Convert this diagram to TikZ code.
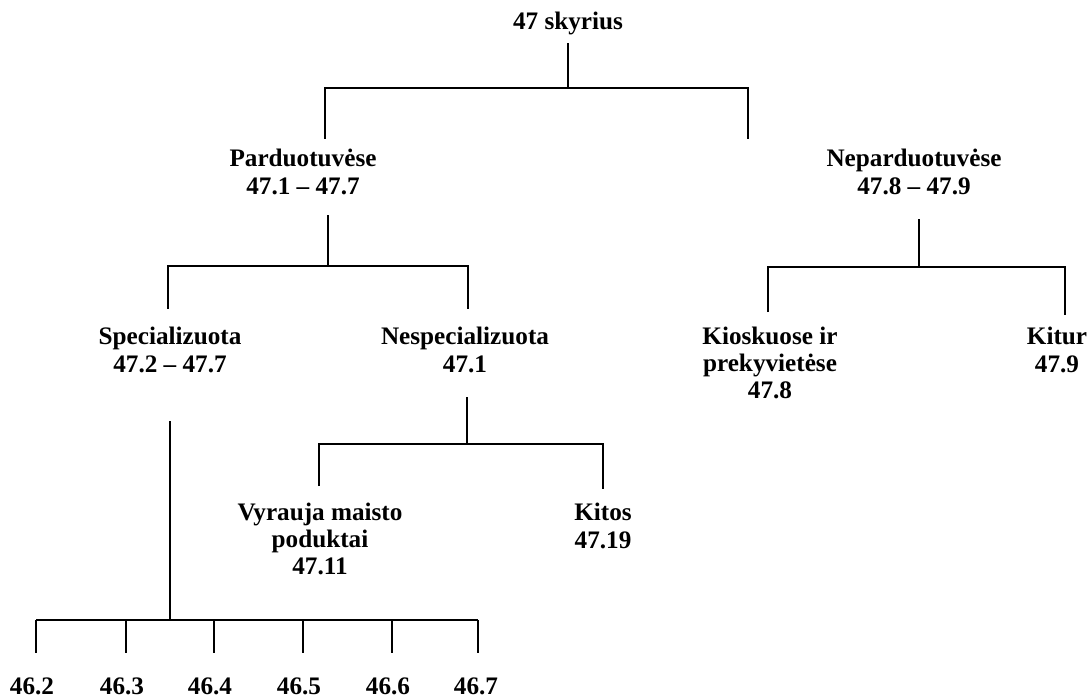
\documentclass[tikz,border=0pt]{standalone}
\usepackage{fontspec}
\setmainfont{Liberation Serif}

\begin{document}
\begin{tikzpicture}[x=0.5pt,y=-0.5pt,line width=0.75pt,
    every node/.style={font=\bfseries\fontsize{12.6}{13.6}\selectfont, align=center, inner sep=2pt}]
    \useasboundingbox (0,0) rectangle (1091,698);

    % Top
    \node (sector) at (568,23) {47 skyrius};

    % Second layer
    \node (stores) at (303,172) {Parduotuvėse\\47.1 – 47.7};
    \node (nonstores) at (914,172) {Neparduotuvėse\\47.8 – 47.9};

    % Third layer
    \node (special) at (170,350) {Specializuota\\47.2 – 47.7};
    \node (nonspecial) at (465,350) {Nespecializuota\\47.1};
    \node (kiosks) at (770,363) {Kioskuose ir\\prekyvietėse\\47.8};
    \node (elsewhere) at (1057,350) {Kitur\\47.9};

    % Fourth layer
    \node (food) at (320,539) {Vyrauja maisto\\poduktai\\47.11};
    \node (other) at (603,526) {Kitos\\47.19};

    % Codes
    \node (c2) at (32,686) {46.2};
    \node (c3) at (122,686) {46.3};
    \node (c4) at (210,686) {46.4};
    \node (c5) at (299,686) {46.5};
    \node (c6) at (388,686) {46.6};
    \node (c7) at (476,686) {46.7};

    % Branch points
    \coordinate (j0) at (568,88);
    \coordinate (b0l) at (325,88);
    \coordinate (b0r) at (748,88);
    \coordinate (j1) at (328,266);
    \coordinate (b1l) at (168,266);
    \coordinate (b1r) at (468,266);
    \coordinate (j2) at (919,267);
    \coordinate (b2l) at (768,267);
    \coordinate (b2r) at (1065,267);
    \coordinate (j3) at (467,444);
    \coordinate (b3l) at (319,444);
    \coordinate (b3r) at (603,444);
    \coordinate (j4) at (170,620);

    % Lines
    \draw[shorten <=2pt] (sector) -- (j0);
    \draw[shorten <=3pt, shorten >=3pt] (b0l |- stores.north) -- (b0l) -- (b0r) -- (b0r |- nonstores.north);

    \draw[shorten <=8pt] (j1 |- stores.south) -- (j1);
    \draw[shorten <=7pt, shorten >=7pt] (b1l |- special.north) -- (b1l) -- (b1r) -- (b1r |- nonspecial.north);

    \draw[shorten <=10pt] (j2 |- nonstores.south) -- (j2);
    \draw[shorten <=5pt, shorten >=4pt] (b2l |- kiosks.north) -- (b2l) -- (b2r) -- (b2r |- elsewhere.north);

    \draw[shorten <=10pt] (j3 |- nonspecial.south) -- (j3);
    \draw[shorten <=6pt, shorten >=5pt] (b3l |- food.north) -- (b3l) -- (b3r) -- (b3r |- other.north);

    \draw[shorten <=22pt] (j4 |- special.south) -- (j4);
    \draw (36,620) -- (478,620);
    \draw[shorten >=10pt] (36,620) -- (c2.north -| 36,0);
    \draw[shorten >=10pt] (126,620) -- (c3.north -| 126,0);
    \draw[shorten >=10pt] (j4 -| 214,0) -- (c4.north -| 214,0);
    \draw[shorten >=10pt] (j4 -| 303,0) -- (c5.north -| 303,0);
    \draw[shorten >=10pt] (j4 -| 392,0) -- (c6.north -| 392,0);
    \draw[shorten >=10pt] (j4 -| 478,0) -- (c7.north -| 478,0);
\end{tikzpicture}
\end{document}
